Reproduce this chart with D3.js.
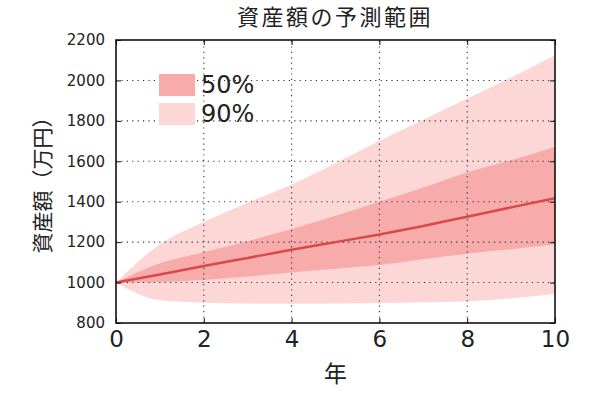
<!DOCTYPE html>
<html>
<head>
<meta charset="utf-8">
<script src="https://cdn.jsdelivr.net/npm/d3@7"></script>
<style>
body { margin: 0; background: #fff; }
text { font-family: "DejaVu Sans", sans-serif; fill: #222; }
.jp { font-family: "Noto Sans CJK JP", sans-serif; }
</style>
</head>
<body>
<div id="chart"></div>
<script>
// years 0..10
var years = [0, 1, 2, 3, 4, 5, 6, 7, 8, 9, 10];
var median = [1000, 1040, 1082, 1122, 1162, 1200, 1238, 1280, 1326, 1372, 1417];
var lo50 = [1000, 1003, 1013, 1030, 1050, 1068, 1087, 1115, 1143, 1165, 1188];
var hi50 = [1000, 1095, 1150, 1205, 1265, 1330, 1400, 1470, 1545, 1605, 1672];
var lo90 = [1000, 912, 900, 896, 895, 896, 899, 903, 908, 922, 943];
var hi90 = [1000, 1190, 1300, 1395, 1485, 1590, 1700, 1805, 1910, 2015, 2125];
var xTicks = [0, 2, 4, 6, 8, 10];
var yTicks = [800, 1000, 1200, 1400, 1600, 1800, 2000, 2200];

var width = 600, height = 408;
var m = {left: 116, right: 45, top: 40, bottom: 85};

var svg = d3.select("#chart").append("svg")
  .attr("width", width)
  .attr("height", height);

var x = d3.scaleLinear().domain([0, 10]).range([m.left, width - m.right]);
var y = d3.scaleLinear().domain([800, 2200]).range([height - m.bottom, m.top]);

var area = function(lo, hi) {
  return d3.area()
    .x(function(d, i){ return x(years[i]); })
    .y0(function(d, i){ return y(lo[i]); })
    .y1(function(d, i){ return y(hi[i]); })
    .curve(d3.curveMonotoneX)(years);
};

svg.append("path").attr("d", area(lo90, hi90)).attr("fill", "#fdd6d6");
svg.append("path").attr("d", area(lo50, hi50)).attr("fill", "#f8abab");

// grid
var grid = svg.append("g").attr("stroke", "#333").attr("stroke-width", 1.1)
  .attr("stroke-dasharray", "1.2,4.2");
grid.selectAll(".gx").data(xTicks.slice(1, -1)).enter().append("line")
  .attr("x1", function(d){ return x(d); }).attr("x2", function(d){ return x(d); })
  .attr("y1", y(800)).attr("y2", y(2200));
grid.selectAll(".gy").data(yTicks.slice(1, -1)).enter().append("line")
  .attr("y1", function(d){ return y(d); }).attr("y2", function(d){ return y(d); })
  .attr("x1", x(0)).attr("x2", x(10));

svg.append("path")
  .attr("d", d3.line()
    .x(function(d, i){ return x(years[i]); })
    .y(function(d){ return y(d); })
    .curve(d3.curveMonotoneX)(median))
  .attr("fill", "none")
  .attr("stroke", "#d84a4a")
  .attr("stroke-width", 2.5);

// axes, ticks inside on all four sides
var ax = svg.append("g");
ax.append("g").attr("transform", "translate(0," + y(800) + ")")
  .call(d3.axisBottom(x).tickValues(xTicks).tickSizeInner(-5).tickSizeOuter(0).tickPadding(8))
  .call(function(g){ g.selectAll("text").attr("font-size", 23).attr("fill", "#111"); });
ax.append("g").attr("transform", "translate(0," + y(2200) + ")")
  .call(d3.axisTop(x).tickValues(xTicks).tickSizeInner(-5).tickSizeOuter(0).tickFormat(""));
ax.append("g").attr("transform", "translate(" + x(0) + ",0)")
  .call(d3.axisLeft(y).tickValues(yTicks).tickFormat(d3.format("d"))
    .tickSizeInner(-5).tickSizeOuter(0).tickPadding(11))
  .call(function(g){ g.selectAll("text").attr("font-size", 15).attr("fill", "#222"); });
ax.append("g").attr("transform", "translate(" + x(10) + ",0)")
  .call(d3.axisRight(y).tickValues(yTicks).tickSizeInner(-5).tickSizeOuter(0).tickFormat(""));
ax.selectAll(".domain").remove();
ax.selectAll("line").attr("stroke", "#111");
ax.selectAll("text").attr("font-family", "DejaVu Sans, sans-serif");

svg.append("rect")
  .attr("x", x(0)).attr("y", y(2200))
  .attr("width", x(10) - x(0)).attr("height", y(800) - y(2200))
  .attr("fill", "none").attr("stroke", "#111").attr("stroke-width", 1.6);

// legend
var legend = [{label: "50%", col: "#f8abab"}, {label: "90%", col: "#fdd6d6"}];
var lg = svg.selectAll(".lg").data(legend).enter().append("g")
  .attr("transform", function(d, i){ return "translate(159," + (74 + i * 29) + ")"; });
lg.append("rect").attr("width", 36).attr("height", 22).attr("fill", function(d){ return d.col; });
lg.append("text").attr("x", 42).attr("y", 19).attr("font-size", 24)
  .text(function(d){ return d.label; });

svg.append("text").attr("class", "jp")
  .attr("x", 335).attr("y", 25).attr("text-anchor", "middle")
  .attr("font-size", 22).attr("letter-spacing", 2.5).text("資産額の予測範囲");
svg.append("text").attr("class", "jp")
  .attr("x", (x(0) + x(10)) / 2).attr("y", 382).attr("text-anchor", "middle")
  .attr("font-size", 23).text("年");
svg.append("text").attr("class", "jp")
  .attr("transform", "translate(50,180) rotate(-90)")
  .attr("text-anchor", "middle")
  .attr("font-size", 21).text("資産額（万円）");
</script>
</body>
</html>
